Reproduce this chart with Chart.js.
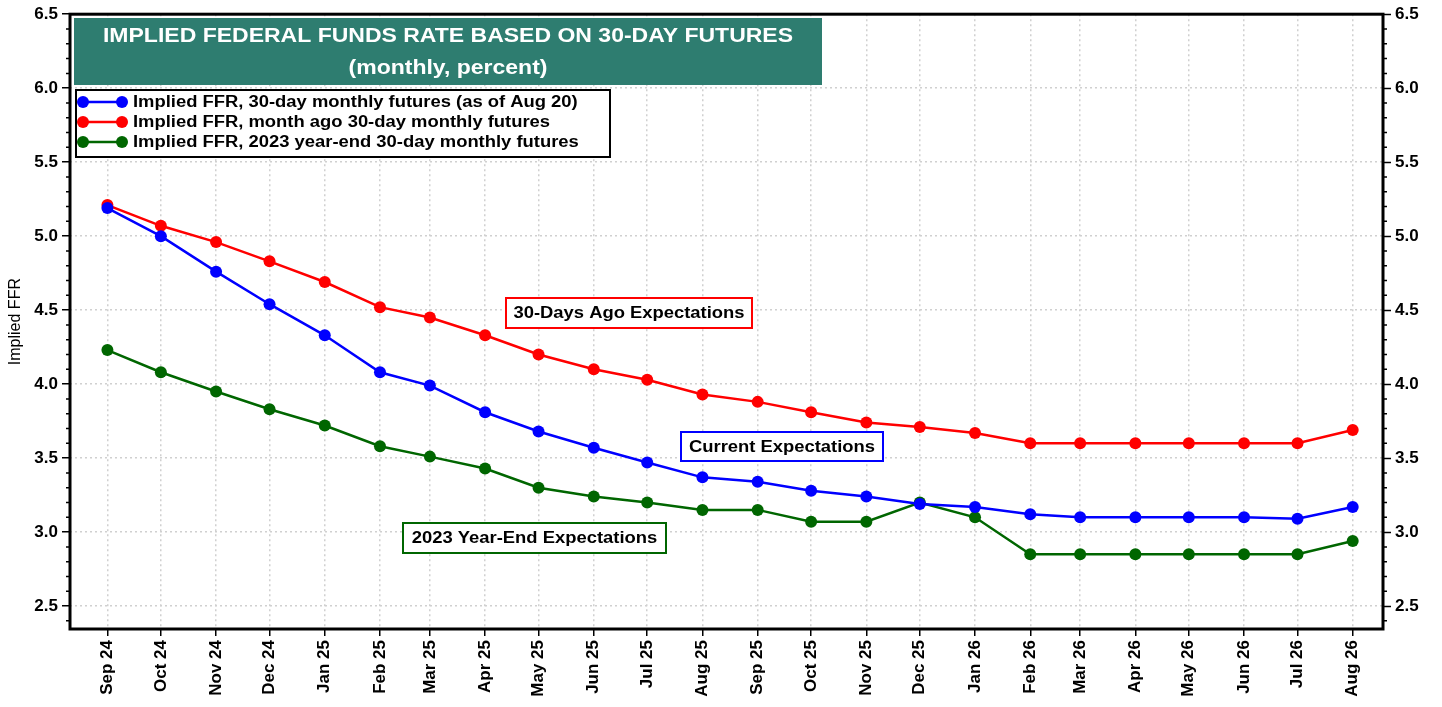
<!DOCTYPE html>
<html>
<head>
<meta charset="utf-8">
<script src="https://cdn.jsdelivr.net/npm/chart.js@4"></script>
<style>
  html, body { margin: 0; padding: 0; background: #fff; }
  canvas { display: block; }
</style>
</head>
<body>
<canvas id="ffrChart" width="1442" height="707"></canvas>
<script>
const months = ['Sep 24', 'Oct 24', 'Nov 24', 'Dec 24', 'Jan 25', 'Feb 25', 'Mar 25', 'Apr 25',
    'May 25', 'Jun 25', 'Jul 25', 'Aug 25', 'Sep 25', 'Oct 25', 'Nov 25', 'Dec 25',
    'Jan 26', 'Feb 26', 'Mar 26', 'Apr 26', 'May 26', 'Jun 26', 'Jul 26', 'Aug 26'];

const current = [5.19, 5.00, 4.76, 4.54, 4.33, 4.08, 3.99, 3.81, 3.68, 3.57, 3.47, 3.37,
    3.34, 3.28, 3.24, 3.19, 3.17, 3.12, 3.10, 3.10, 3.10, 3.10, 3.09, 3.17];
const monthAgo = [5.21, 5.07, 4.96, 4.83, 4.69, 4.52, 4.45, 4.33, 4.20, 4.10, 4.03, 3.93,
    3.88, 3.81, 3.74, 3.71, 3.67, 3.60, 3.60, 3.60, 3.60, 3.60, 3.60, 3.69];
const yearEnd2023 = [4.23, 4.08, 3.95, 3.83, 3.72, 3.58, 3.51, 3.43, 3.30, 3.24, 3.20, 3.15,
    3.15, 3.07, 3.07, 3.20, 3.10, 2.85, 2.85, 2.85, 2.85, 2.85, 2.85, 2.94];

const yTicks = [2.5, 3.0, 3.5, 4.0, 4.5, 5.0, 5.5, 6.0, 6.5];

const seriesNames = [
    'Implied FFR, 30-day monthly futures (as of Aug 20)',
    'Implied FFR, month ago 30-day monthly futures',
    'Implied FFR, 2023 year-end 30-day monthly futures'
];

// days since 1 Sep 2024, so months sit at their real calendar spacing
const start = Date.UTC(2024, 8, 1);
const dayOf = months.map((m, i) => (Date.UTC(2024, 8 + i, 1) - start) / 864e5);

const BLUE = '#0000ff';
const RED = '#ff0000';
const GREEN = '#006600';
const FONT = 'Liberation Sans, Arial, sans-serif';
const STRETCH = 1.15; // the original's boxed text runs a bit wide

function toPoints(values) {
    return values.map((v, i) => ({ x: dayOf[i], y: v }));
}

function makeSet(label, values, color) {
    return {
        label: label,
        data: toPoints(values),
        borderColor: color,
        backgroundColor: color,
        borderWidth: 2.5,
        pointRadius: 6,
        pointBorderWidth: 0,
        pointBackgroundColor: color,
        tension: 0
    };
}

function wideText(ctx, text, x, y) {
    ctx.save();
    ctx.translate(x, y);
    ctx.scale(STRETCH, 1);
    ctx.fillText(text, 0, 0);
    ctx.restore();
}

const decorations = {
    id: 'decorations',
    beforeDatasetsDraw(chart) {
        const { ctx, chartArea, scales } = chart;
        // minor ticks on both y axes
        ctx.save();
        ctx.strokeStyle = '#000';
        ctx.lineWidth = 1.5;
        for (let k = 24; k <= 65; k++) {
            if (k % 5 === 0) continue;
            const y = scales.y.getPixelForValue(k / 10);
            if (y < chartArea.top || y > chartArea.bottom) continue;
            ctx.beginPath();
            ctx.moveTo(chartArea.left - 4, y);
            ctx.lineTo(chartArea.left, y);
            ctx.moveTo(chartArea.right, y);
            ctx.lineTo(chartArea.right + 4, y);
            ctx.stroke();
        }
        ctx.restore();
    },
    afterDatasetsDraw(chart) {
        const { ctx, chartArea } = chart;
        ctx.save();

        // frame
        ctx.strokeStyle = '#000';
        ctx.lineWidth = 3;
        ctx.strokeRect(chartArea.left, chartArea.top, chartArea.right - chartArea.left, chartArea.bottom - chartArea.top);

        // title box
        ctx.fillStyle = '#2e7d70';
        ctx.fillRect(74, 18, 748, 67);
        ctx.fillStyle = '#fff';
        ctx.textAlign = 'center';
        ctx.textBaseline = 'middle';
        ctx.font = 'bold 20px ' + FONT;
        wideText(ctx, 'IMPLIED FEDERAL FUNDS RATE BASED ON 30-DAY FUTURES', 448, 36);
        wideText(ctx, '(monthly, percent)', 448, 68);

        // legend
        ctx.fillStyle = '#fff';
        ctx.fillRect(76, 90, 534, 67);
        ctx.strokeStyle = '#000';
        ctx.lineWidth = 2;
        ctx.strokeRect(76, 90, 534, 67);
        ctx.textAlign = 'left';
        ctx.font = 'bold 16px ' + FONT;
        chart.data.datasets.forEach((ds, i) => {
            const y = 102 + i * 20;
            ctx.strokeStyle = ds.borderColor;
            ctx.fillStyle = ds.borderColor;
            ctx.lineWidth = 2.5;
            ctx.beginPath();
            ctx.moveTo(83, y);
            ctx.lineTo(122, y);
            ctx.stroke();
            [83, 122].forEach(px => {
                ctx.beginPath();
                ctx.arc(px, y, 6, 0, Math.PI * 2);
                ctx.fill();
            });
            ctx.fillStyle = '#000';
            wideText(ctx, ds.label, 133, y + 1);
        });

        // labels on the lines
        const notes = [
            { text: '30-Days Ago Expectations', x: 506, y: 298, w: 246, h: 30, color: RED },
            { text: 'Current Expectations', x: 681, y: 432, w: 202, h: 29, color: BLUE },
            { text: '2023 Year-End Expectations', x: 403, y: 523, w: 263, h: 30, color: GREEN }
        ];
        ctx.textAlign = 'center';
        notes.forEach(n => {
            ctx.fillStyle = '#fff';
            ctx.fillRect(n.x, n.y, n.w, n.h);
            ctx.strokeStyle = n.color;
            ctx.lineWidth = 2;
            ctx.strokeRect(n.x, n.y, n.w, n.h);
            ctx.fillStyle = '#000';
            ctx.font = 'bold 16px ' + FONT;
            wideText(ctx, n.text, n.x + n.w / 2, n.y + n.h / 2 + 1);
        });

        ctx.restore();
    }
};

const yFont = { family: FONT, size: 17, weight: 'bold' };
const xFont = { family: FONT, size: 17, weight: 'bold' };

new Chart(document.getElementById('ffrChart'), {
    type: 'line',
    data: {
        datasets: [
            makeSet(seriesNames[0], current, BLUE),
            makeSet(seriesNames[1], monthAgo, RED),
            makeSet(seriesNames[2], yearEnd2023, GREEN)
        ]
    },
    options: {
        responsive: false,
        animation: false,
        devicePixelRatio: 1,
        layout: { padding: { top: 14, left: 0, right: 0, bottom: 0 } },
        plugins: { legend: { display: false }, tooltip: { enabled: false }, title: { display: false } },
        scales: {
            x: {
                type: 'linear',
                min: -21,
                max: 716,
                afterBuildTicks: s => { s.ticks = dayOf.map(v => ({ value: v })); },
                afterFit: s => { s.height = 78; },
                ticks: {
                    autoSkip: false,
                    minRotation: 90,
                    maxRotation: 90,
                    color: '#000',
                    font: xFont,
                    padding: 4,
                    callback: (v, i) => months[i]
                },
                grid: { color: '#d0d0d0', lineWidth: 1.5, tickColor: '#000', tickLength: 7, tickWidth: 1.5 },
                border: { display: false, dash: [2, 3] }
            },
            y: {
                position: 'left',
                min: 2.345,
                max: 6.5,
                afterBuildTicks: s => { s.ticks = yTicks.map(v => ({ value: v })); },
                afterFit: s => { s.width = 70; },
                ticks: { color: '#000', font: yFont, padding: 4, callback: v => v.toFixed(1) },
                title: { display: true, text: 'Implied FFR', color: '#000', font: { family: FONT, size: 16 }, padding: { top: 6, bottom: 0 } },
                grid: { color: '#d0d0d0', lineWidth: 1.5, tickColor: '#000', tickLength: 8, tickWidth: 1.5 },
                border: { display: false, dash: [2, 3] }
            },
            y2: {
                position: 'right',
                min: 2.345,
                max: 6.5,
                afterBuildTicks: s => { s.ticks = yTicks.map(v => ({ value: v })); },
                afterFit: s => { s.width = 59; },
                ticks: { color: '#000', font: yFont, padding: 4, callback: v => v.toFixed(1) },
                grid: { drawOnChartArea: false, tickColor: '#000', tickLength: 8, tickWidth: 1.5 },
                border: { display: false }
            }
        }
    },
    plugins: [decorations]
});
</script>
</body>
</html>
